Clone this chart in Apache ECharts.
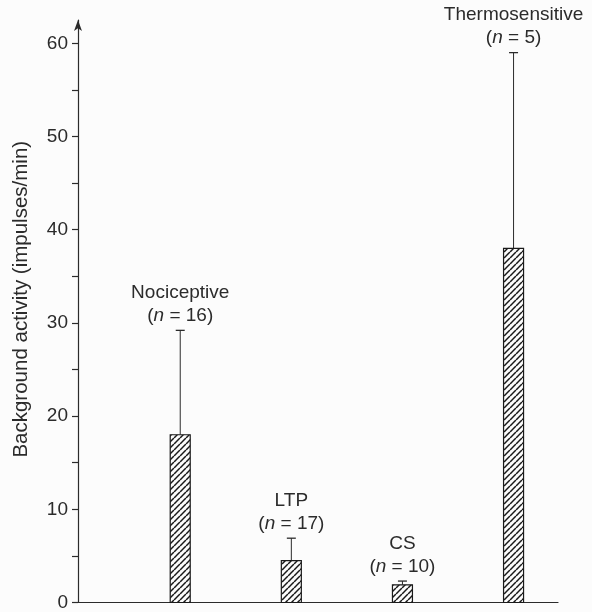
<!DOCTYPE html>
<html>
<head>
<meta charset="utf-8">
<script src="https://cdn.jsdelivr.net/npm/echarts@6/dist/echarts.min.js"></script>
<style>
html,body{margin:0;padding:0;background:#fcfcfc;}
#chart{width:592px;height:612px;}
</style>
</head>
<body>
<div id="chart"></div>
<script>
// ---- data ----
const categories = ['Nociceptive', 'LTP', 'CS', 'Thermosensitive'];
const nCounts = [16, 17, 10, 5];
const means = [18, 4.5, 1.9, 38];
const errors = [11.2, 2.4, 0.4, 21];          // upper error (mean + error)
const yTickValues = [0,5,10,15,20,25,30,35,40,45,50,55,60];
const yLabelValues = [0,10,20,30,40,50,60];

// ---- style ----
const INK = '#2b2b2b';
const FONT = '"Liberation Sans", Arial, Helvetica, sans-serif';
const BAR_W = 20;
const CAP_W = 9;
const FS = 19;

// hatch pattern
const P = 6;
const pat = document.createElement('canvas');
pat.width = P; pat.height = P;
(function(){
  const c = pat.getContext('2d');
  c.fillStyle = '#fcfcfc'; c.fillRect(0,0,P,P);
  c.strokeStyle = '#1a1a1a'; c.lineWidth = 1.5;
  for (const k of [-P, 0, P]) { c.beginPath(); c.moveTo(k, P); c.lineTo(k + P, 0); c.stroke(); }
})();

const seriesData = categories.map((c, i) => [i + 1, means[i], means[i] + errors[i], i]);

const chart = echarts.init(document.getElementById('chart'), null, {renderer: 'canvas'});
chart.setOption({
  backgroundColor: '#fcfcfc',
  animation: false,
  grid: {left: 78, right: 34, top: 20, bottom: 4},
  xAxis: {
    type: 'value', min: 0.08, max: 4.4,
    axisLine: {show: true, onZero: false, lineStyle: {color: INK, width: 1.2}},
    axisTick: {show: false}, axisLabel: {show: false}, splitLine: {show: false}
  },
  yAxis: {
    type: 'value', min: 0, max: 62.5,
    name: 'Background activity (impulses/min)',
    nameLocation: 'middle', nameGap: 46,
    nameTextStyle: {fontFamily: FONT, fontSize: 20.5, color: INK, padding: [0, 0, 0, 24]},
    axisLine: {show: true, symbol: ['none', 'arrow'], symbolSize: [6, 11], lineStyle: {color: INK, width: 1.2}},
    axisTick: {show: true, inside: false, length: 6, customValues: yTickValues, lineStyle: {color: INK, width: 1.2}},
    axisLabel: {customValues: yLabelValues, fontFamily: FONT, fontSize: FS, color: INK, margin: 10},
    splitLine: {show: false}
  },
  series: [{
    type: 'custom',
    data: seriesData,
    clip: false,
    renderItem: function (params, api) {
      const x = api.value(0), m = api.value(1), up = api.value(2), idx = api.value(3);
      const base = api.coord([x, 0]);
      const top = api.coord([x, m]);
      const et = api.coord([x, up]);
      const label = '{t|' + categories[idx] + '}\n{p|(}{i|n}{p| = ' + nCounts[idx] + ')}';
      return {
        type: 'group',
        children: [
          {type: 'line', shape: {x1: top[0], y1: top[1], x2: et[0], y2: et[1]}, style: {stroke: INK, lineWidth: 1}},
          {type: 'line', shape: {x1: et[0] - CAP_W / 2, y1: et[1], x2: et[0] + CAP_W / 2, y2: et[1]}, style: {stroke: INK, lineWidth: 1.3}},
          {type: 'rect', shape: {x: base[0] - BAR_W / 2, y: top[1], width: BAR_W, height: base[1] - top[1]},
           style: {fill: {image: pat, repeat: 'repeat'}, stroke: '#1a1a1a', lineWidth: 1.2}},
          {type: 'text', style: {
            x: et[0], y: et[1] - 3, text: label, align: 'center', verticalAlign: 'bottom',
            fill: INK,
            rich: {
              t: {fontFamily: FONT, fontSize: FS, lineHeight: 23, fill: INK},
              p: {fontFamily: FONT, fontSize: FS, lineHeight: 23, fill: INK},
              i: {fontFamily: FONT, fontSize: FS, lineHeight: 23, fontStyle: 'italic', fill: INK}
            }
          }}
        ]
      };
    }
  }]
});
</script>
</body>
</html>
